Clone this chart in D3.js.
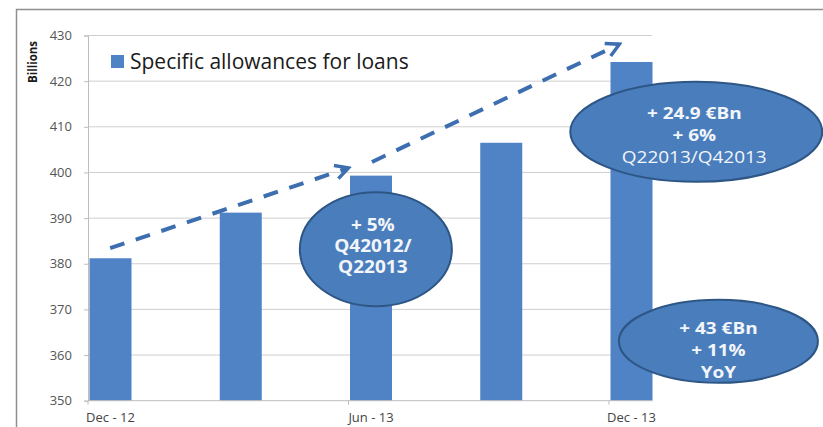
<!DOCTYPE html>
<html>
<head>
<meta charset="utf-8">
<script src="https://cdn.jsdelivr.net/npm/d3@7/dist/d3.min.js"></script>
<style>
  html, body { margin: 0; padding: 0; background: #fff; }
  svg { display: block; }
  text { font-family: "Open Sans", "Noto Sans", sans-serif; }
</style>
</head>
<body>
<svg id="chart" width="823" height="427"></svg>
<script>
// Quarter-end periods and specific allowances for loans (EUR billions)
const periods = ["Dec - 12", "Mar - 13", "Jun - 13", "Sep - 13", "Dec - 13"];
const allowances = [381.2, 391.2, 399.3, 406.5, 424.2];
const seriesName = "Specific allowances for loans";

// Axis ticks
const yTicks = [350, 360, 370, 380, 390, 400, 410, 420, 430];
const xTickIndex = [0, 2, 4];
const yAxisTitle = "Billions";

// Trend arrows, in (period index, value) coordinates
const trendArrows = [
  { from: [0.17, 383.4], to: [2.0, 401.0] },
  { from: [2.18, 402.3], to: [4.08, 428.1] }
];

// Growth callouts: centre in (period index, value), lines of text
const callouts = [
  { at: [2.21, 383.2], rx: 76, ry: 57, lines: ["+ 5%", "Q42012/", "Q22013"], bold: [true, true, true], dy: [-24, -3, 18], dx: -3, size: 17, sx: 1.12 },
  { at: [4.67, 408.9], rx: 126, ry: 50, lines: ["+ 24.9 €Bn", "+ 6%", "Q22013/Q42013"], bold: [true, true, false], dy: [-19, 3, 25], dx: -2, size: 16.5, sx: 1.15 },
  { at: [4.84, 363.0], rx: 99.5, ry: 41.5, lines: ["+ 43 €Bn", "+ 11%", "YoY"], bold: [true, true, true], dy: [-13.5, 8.5, 30.5], dx: 0, size: 16.5, sx: 1.15 }
];

const svg = d3.select("#chart");
const barColor = "#4f83c6";
const calloutFill = "#4a7dbc";
const calloutStroke = "#2e5685";
const gridColor = "#cfcfcf";
const textColor = "#555555";

const x = d3.scaleLinear().domain([0, 4]).range([88, 609]);
const y = d3.scaleLinear().domain([350, 430]).range([400.7, 35.5]);
const barWidth = 42;
const plotLeft = x(0);
const plotRight = x(4) + barWidth + 1;

// Outer frame (top and left edges)
svg.append("path")
  .attr("d", `M16.5,427 L16.5,9.5 L823,9.5`)
  .attr("fill", "none")
  .attr("stroke", "#8f8f8f")
  .attr("stroke-width", 1.5);

// Horizontal gridlines
svg.append("g")
  .selectAll("line")
  .data(yTicks.filter(t => t > 350))
  .join("line")
  .attr("x1", plotLeft).attr("x2", plotRight)
  .attr("y1", d => y(d)).attr("y2", d => y(d))
  .attr("stroke", gridColor)
  .attr("stroke-width", 1);

// Y axis
const yAxis = d3.axisLeft(y).tickValues(yTicks).tickSize(4).tickPadding(12);
const gy = svg.append("g").attr("transform", `translate(${plotLeft},0)`).call(yAxis);
gy.select(".domain").attr("stroke", "#bdbdbd");
gy.selectAll(".tick line").attr("stroke", "#bdbdbd");
gy.selectAll(".tick text")
  .attr("fill", textColor)
  .style("font-size", "13px")
  .style("font-family", "'Open Sans', sans-serif");

// Y axis title
svg.append("text")
  .attr("transform", "translate(36.5,62) rotate(-90)")
  .attr("text-anchor", "middle")
  .attr("fill", "#1a1a1a")
  .style("font-size", "11.5px")
  .style("font-weight", "bold")
  .text(yAxisTitle);

// Bars
svg.append("g")
  .selectAll("rect")
  .data(allowances)
  .join("rect")
  .attr("x", (d, i) => x(i) + 1.5)
  .attr("width", barWidth)
  .attr("y", d => y(d))
  .attr("height", d => y(350) - y(d))
  .attr("fill", barColor);

// X axis
svg.append("line")
  .attr("x1", plotLeft).attr("x2", plotRight)
  .attr("y1", y(350)).attr("y2", y(350))
  .attr("stroke", "#bdbdbd");
svg.append("g")
  .selectAll("line")
  .data(xTickIndex)
  .join("line")
  .attr("x1", d => x(d)).attr("x2", d => x(d))
  .attr("y1", y(350)).attr("y2", y(350) + 4)
  .attr("stroke", "#bdbdbd");
svg.append("g")
  .selectAll("text")
  .data(xTickIndex)
  .join("text")
  .attr("x", d => x(d) + 1.5 + barWidth / 2)
  .attr("y", 421.5)
  .attr("text-anchor", "middle")
  .attr("fill", "#444444")
  .style("font-size", "13px")
  .text(d => periods[d]);

// Legend
svg.append("rect")
  .attr("x", 111).attr("y", 55)
  .attr("width", 13).attr("height", 13)
  .attr("fill", barColor);
svg.append("text")
  .attr("x", 130).attr("y", 68.5)
  .attr("fill", "#1a1a1a")
  .style("font-size", "21px")
  .text(seriesName);

// Dashed trend arrows
const arrowColor = "#3c6eb0";
const defs = svg.append("defs");
defs.append("marker")
  .attr("id", "openArrow")
  .attr("viewBox", "0 0 18 18")
  .attr("refX", 15).attr("refY", 9)
  .attr("markerWidth", 18).attr("markerHeight", 18)
  .attr("markerUnits", "userSpaceOnUse")
  .attr("orient", "auto")
  .append("path")
  .attr("d", "M2,2 L15,9 L2,16")
  .attr("fill", "none")
  .attr("stroke", arrowColor)
  .attr("stroke-width", 3.5)
  .attr("stroke-linejoin", "miter");

svg.append("g")
  .selectAll("line")
  .data(trendArrows)
  .join("line")
  .attr("x1", d => x(d.from[0])).attr("y1", d => y(d.from[1]))
  .attr("x2", d => x(d.to[0])).attr("y2", d => y(d.to[1]))
  .attr("stroke", arrowColor)
  .attr("stroke-width", 4)
  .attr("stroke-dasharray", "15,12")
  .attr("marker-end", "url(#openArrow)");

// Callout ellipses
const cg = svg.append("g")
  .selectAll("g")
  .data(callouts)
  .join("g")
  .attr("transform", d => `translate(${x(d.at[0])},${y(d.at[1])})`);

cg.append("ellipse")
  .attr("rx", d => d.rx).attr("ry", d => d.ry)
  .attr("fill", calloutFill)
  .attr("stroke", calloutStroke)
  .attr("stroke-width", 2);

cg.each(function (d) {
  const g = d3.select(this);
  d.lines.forEach((line, i) => {
    g.append("text")
      .attr("transform", `translate(${d.dx},${d.dy[i]}) scale(${d.sx},1)`)
      .attr("dy", "0.35em")
      .attr("text-anchor", "middle")
      .attr("fill", "#f2f5fa")
      .style("font-size", d.size + "px")
      .style("font-weight", d.bold[i] ? "bold" : "normal")
      .text(line);
  });
});
</script>
</body>
</html>
